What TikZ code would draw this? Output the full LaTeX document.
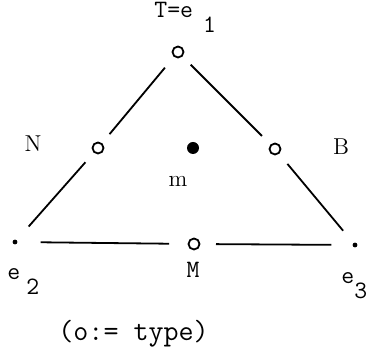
\documentclass[tikz,border=0pt]{standalone}
\usepackage{tikz}
\usetikzlibrary{positioning}
\tikzset{
  typev/.style={circle,draw,line width=0.9pt,minimum size=5.5pt,inner sep=0pt},
  vert/.style={circle,fill,minimum size=2.4pt,inner sep=0pt},
  bigdot/.style={circle,fill,minimum size=6pt,inner sep=0pt},
  link/.style={line width=0.9pt},
  lbl/.style={inner sep=0pt,font=\fontsize{11.5}{13}\selectfont},
  ttlbl/.style={inner sep=0pt,font=\fontsize{12.5}{14}\selectfont\ttfamily},
}
\newcommand{\typenode}[2]{
  \node[typev] (#1) at #2 {};
}

\begin{document}
\begin{tikzpicture}[x=0.5pt,y=-0.5pt]
  \useasboundingbox (0,0) rectangle (369,356);
  \typenode{top}{(178,52)}
  \typenode{nside}{(98,148)}
  \typenode{bside}{(275,149)}
  \typenode{mside}{(194,244)}
  \node[vert] (lft) at (15,242) {};
  \node[vert] (rgt) at (355,245) {};
  \node[bigdot] (mid) at (193,148) {};
  \draw[link,shorten <=7pt,shorten >=5.8pt] (top) -- (nside);
  \draw[link,shorten <=6.3pt,shorten >=8.9pt] (nside) -- (lft);
  \draw[link,shorten <=5.8pt,shorten >=6pt] (top) -- (bside);
  \draw[link,shorten <=6.5pt,shorten >=7.9pt] (bside) -- (rgt);
  \draw[link,shorten <=11.4pt,shorten >=9.2pt] (lft) -- (mside);
  \draw[link,shorten <=7.8pt,shorten >=10.4pt] (mside) -- (rgt);
  % labels
  \node[ttlbl,anchor=base west] (tlab) at (154,18) {T=e\hspace{5pt}\raisebox{-7.5pt}{1}};
  \node[ttlbl,anchor=base west] (llab) at (7,280) {e\hspace{3pt}\raisebox{-7.5pt}{2}};
  \node[ttlbl,anchor=base west] (rlab) at (341,284) {e\raisebox{-7.5pt}{3}};
  \node[ttlbl,anchor=base] (mlab) at (193,278) {M};
  \node[lbl,anchor=base] (nlab) at (33,152) {N};
  \node[lbl,anchor=base] (blab) at (341,155) {B};
  \node[lbl,anchor=base] (clab) at (178,187) {m};
  \node[ttlbl,anchor=base west,font=\fontsize{14.6}{16}\selectfont\ttfamily] (cap) at (58,341) {(o:= type)};
\end{tikzpicture}
\end{document}
